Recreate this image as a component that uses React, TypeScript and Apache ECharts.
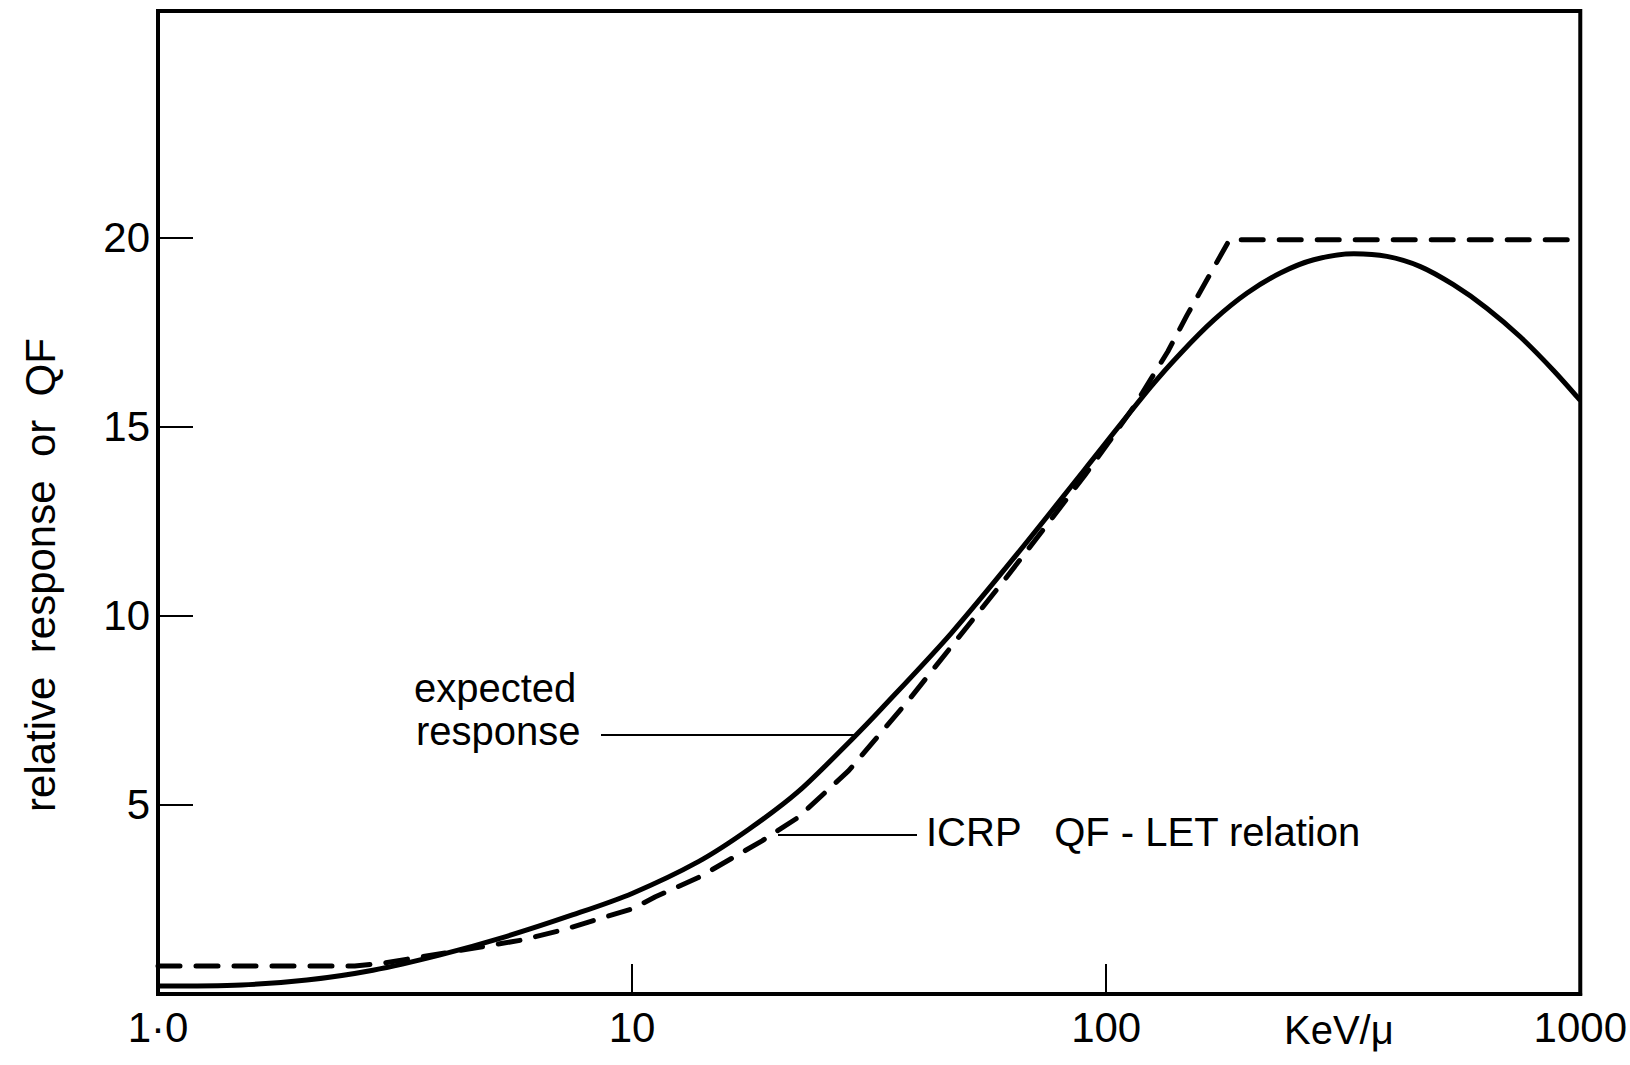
import React, { useEffect, useRef } from "react";
import * as echarts from "echarts";

// ---- data ----
const xTickValues = [1, 10, 100, 1000];
const xTickLabels = ["1·0", "10", "100", "1000"];
const xTickMarks = [10, 100];
const yTickValues = [5, 10, 15, 20];

// expected response (solid)
const expectedX = [1, 1.5, 2.06, 2.84, 3.92, 5.42, 7.48, 10, 13.8, 17.6, 22.4, 29, 33.6, 47.1, 65.1, 89.9, 124, 143.6, 168.8, 198.3, 233, 274, 333, 391, 460, 540, 635, 746, 877, 1000];
const expectedY = [0.21, 0.24, 0.37, 0.63, 1.03, 1.52, 2.09, 2.66, 3.5, 4.35, 5.35, 6.72, 7.55, 9.54, 11.66, 13.86, 16.05, 16.95, 17.83, 18.54, 19.07, 19.42, 19.58, 19.51, 19.24, 18.76, 18.14, 17.39, 16.5, 15.7];

// ICRP QF - LET relation (dashed)
const icrpX = [1, 2.6, 3.0, 3.62, 4.83, 5.87, 7.12, 8.79, 10, 11.2, 13.8, 18.8, 22.4, 28.6, 38.2, 47.9, 61, 76.5, 89.9, 100.7, 114.6, 135, 148, 182, 1000];
const icrpY = [0.74, 0.74, 0.82, 0.99, 1.25, 1.43, 1.69, 2.04, 2.25, 2.57, 3.08, 4.05, 4.67, 5.9, 7.75, 9.3, 10.95, 12.55, 13.7, 14.55, 15.55, 17.0, 17.95, 19.95, 19.95];

const yAxisTitle = "relative  response  or  QF";
const xAxisUnit = "KeV/μ";
const expectedLabel = ["expected", "response"];
const icrpLabel = "ICRP   QF - LET relation";

const FONT = "'Liberation Sans', Arial, sans-serif";

export default function App() {
  const ref = useRef<HTMLDivElement>(null);

  useEffect(() => {
    document.body.style.margin = "0";
    const chart = echarts.init(ref.current!, null, { renderer: "svg" });

    const txt = (text: string, x: number, y: number, size: number, extra: any = {}) => ({
      type: "text",
      x,
      y,
      ...extra,
      style: {
        text,
        fill: "#000",
        font: `${size}px ${FONT}`,
        fontSize: size,
        fontFamily: FONT,
        textAlign: extra.align || "left",
        align: extra.align || "left",
        textVerticalAlign: "middle",
        verticalAlign: "middle",
      },
    });

    const option: any = {
      animation: false,
      backgroundColor: "#fff",
      grid: {
        left: 158,
        right: 44,
        top: 11,
        bottom: 71,
        show: true,
        borderColor: "#000",
        borderWidth: 4,
      },
      xAxis: {
        type: "log",
        logBase: 10,
        min: 1,
        max: 1000,
        axisLine: { show: true, lineStyle: { color: "#000", width: 4 } },
        axisTick: {
          show: true,
          inside: true,
          length: 30,
          customValues: xTickMarks,
          lineStyle: { color: "#000", width: 2 },
        },
        minorTick: { show: false },
        splitLine: { show: false },
        axisLabel: {
          customValues: xTickValues,
          color: "#000",
          fontSize: 42,
          fontFamily: FONT,
          margin: 12,
          formatter: (v: number) => {
            const idx = xTickValues.findIndex((t) => Math.abs(Math.log10(t) - Math.log10(v)) < 1e-6);
            return idx >= 0 ? xTickLabels[idx] : "";
          },
        },
      },
      yAxis: {
        type: "value",
        min: 0,
        max: 26,
        axisLine: { show: true, lineStyle: { color: "#000", width: 4 } },
        axisTick: {
          show: true,
          inside: true,
          length: 35,
          customValues: yTickValues,
          lineStyle: { color: "#000", width: 2 },
        },
        splitLine: { show: false },
        axisLabel: {
          customValues: yTickValues,
          color: "#000",
          fontSize: 42,
          fontFamily: FONT,
          margin: 8,
        },
      },
      series: [
        {
          type: "line",
          name: "expected response",
          data: expectedX.map((x, i) => [x, expectedY[i]]),
          showSymbol: false,
          smooth: 0.3,
          lineStyle: { color: "#000", width: 5 },
        },
        {
          type: "line",
          name: "ICRP QF - LET relation",
          data: icrpX.map((x, i) => [x, icrpY[i]]),
          showSymbol: false,
          smooth: false,
          lineStyle: { color: "#000", width: 5, type: [22, 16], cap: "round", join: "round" },
        },
      ],
      graphic: [
        txt(yAxisTitle, 40, 575, 42, { rotation: Math.PI / 2, align: "center" }),
        txt(expectedLabel[0], 414, 688, 40),
        txt(expectedLabel[1], 416, 731, 40),
        {
          type: "line",
          shape: { x1: 601, y1: 735, x2: 854, y2: 735 },
          style: { stroke: "#000", lineWidth: 2 },
        },
        {
          type: "line",
          shape: { x1: 778, y1: 835, x2: 917, y2: 835 },
          style: { stroke: "#000", lineWidth: 2 },
        },
        txt(icrpLabel, 926, 832, 40),
        txt(xAxisUnit, 1284, 1030, 40),
      ],
    };

    chart.setOption(option);
    return () => chart.dispose();
  }, []);

  return <div ref={ref} style={{ width: 1630, height: 1065 }} />;
}
